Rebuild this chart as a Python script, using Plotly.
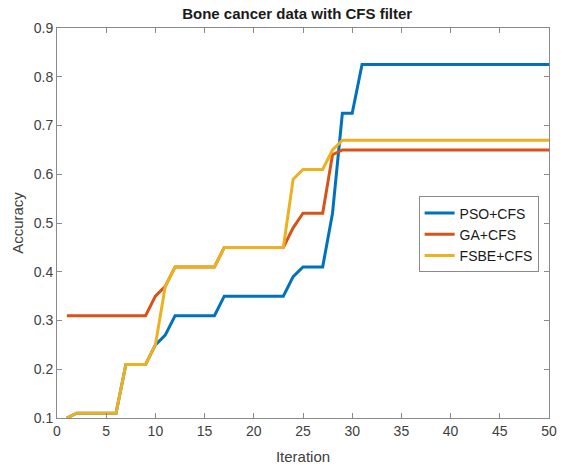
import plotly.graph_objects as go

iterations = list(range(1, 51))
pso_cfs = ([0.10] + [0.11] * 5 + [0.21] * 3 + [0.25, 0.27] + [0.31] * 5 + [0.35] * 7
           + [0.39] + [0.41] * 3 + [0.52] + [0.725] * 2 + [0.825] * 20)
ga_cfs = ([0.31] * 9 + [0.35, 0.37] + [0.41] * 5 + [0.45] * 7
          + [0.49] + [0.52] * 3 + [0.64] + [0.65] * 22)
fsbe_cfs = ([0.10] + [0.11] * 5 + [0.21] * 3 + [0.25, 0.37] + [0.41] * 5 + [0.45] * 7
            + [0.59] + [0.61] * 3 + [0.65] + [0.67] * 22)

series = [("PSO+CFS", pso_cfs, "#0072BD"),
          ("GA+CFS", ga_cfs, "#D95319"),
          ("FSBE+CFS", fsbe_cfs, "#EDB120")]

fig = go.Figure()
for name, vals, col in series:
    fig.add_trace(go.Scatter(x=iterations, y=vals, mode="lines", name=name,
                             line=dict(color=col, width=3)))

font = "Liberation Sans, Arial, sans-serif"
axis_common = dict(showline=True, linecolor="#8a8a8a", linewidth=1, mirror="ticks",
                   ticks="inside", ticklen=5, tickcolor="#8a8a8a", showgrid=False,
                   zeroline=False, tickfont=dict(family=font, size=14, color="#404040"))

fig.update_layout(
    width=565, height=470,
    margin=dict(l=57, r=8, t=28, b=52),
    paper_bgcolor="white", plot_bgcolor="white",
    title=dict(text="<b>Bone cancer data with CFS filter</b>", x=0.526, xanchor="center",
               y=0.97, yanchor="middle",
               font=dict(family=font, size=15, color="#1a1a1a")),
    xaxis=dict(range=[0, 50], tickvals=list(range(0, 51, 5)),
               title=dict(text="Iteration", font=dict(family=font, size=15, color="#404040"),
                          standoff=13),
               **axis_common),
    yaxis=dict(range=[0.1, 0.9], tickvals=[0.1, 0.2, 0.3, 0.4, 0.5, 0.6, 0.7, 0.8, 0.9],
               ticktext=["0.1", "0.2", "0.3", "0.4", "0.5", "0.6", "0.7", "0.8", "0.9"],
               title=dict(text="Accuracy", font=dict(family=font, size=15, color="#404040"),
                          standoff=6),
               **axis_common),
    legend=dict(x=0.735, y=0.568, xanchor="left", yanchor="top",
                bgcolor="white", bordercolor="#8a8a8a", borderwidth=1,
                font=dict(family=font, size=14, color="#1a1a1a"),
                tracegroupgap=0, itemwidth=30),
    showlegend=True,
)

fig.write_html("out.html")
